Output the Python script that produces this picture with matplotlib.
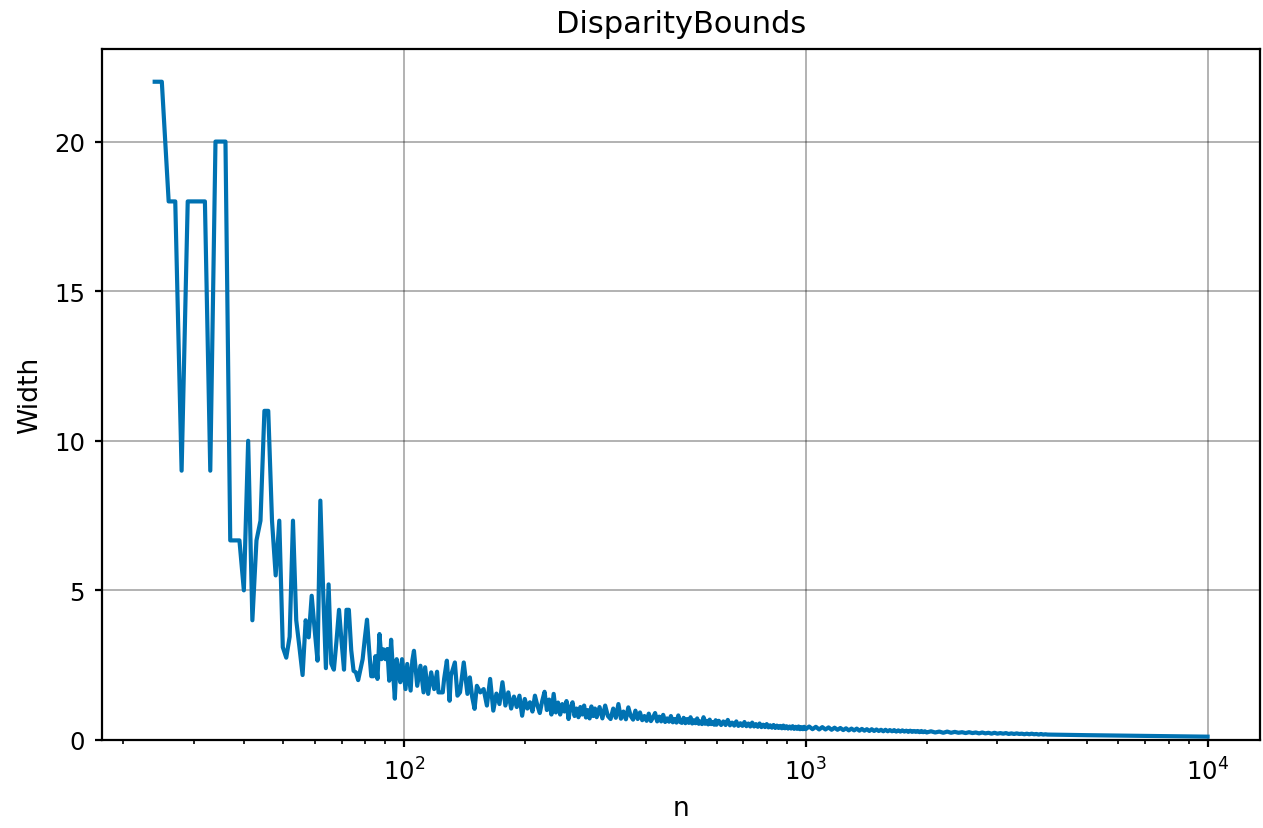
import numpy as np
import matplotlib
matplotlib.use("Agg")
import matplotlib.pyplot as plt

# ---- data ----
n_early = list(range(24, 101))
w_early = [22, 22, 18, 18, 9, 18, 18, 18, 18, 9,
           20, 20, 20, 6.67, 6.67, 6.67, 5, 10, 4, 6.67,
           7.33, 11, 11, 7.33, 5.5, 7.33, 3.1, 2.75, 3.45, 7.33,
           4.0, 3.1, 2.17, 4.0, 3.43, 4.82, 3.7, 2.65, 8.0, 5.0,
           2.4, 5.2, 2.55, 2.35, 3.3, 4.35, 3.3, 2.35, 4.35, 4.35,
           3.0, 2.31, 2.26, 2.0, 2.35, 2.7, 3.4, 4.02, 3.0, 2.13,
           2.13, 2.8, 2.04, 3.54, 2.7, 3.03, 2.7, 3.04, 1.98, 3.35,
           2.3, 1.38, 2.7, 2.3, 1.93, 2.7, 2.2]

n_mid = [101, 102, 104, 105, 106, 108, 110, 112, 113, 115,
         117, 119, 121, 122, 125, 126, 128, 130, 131, 134,
         136, 138, 141, 144, 146, 148, 150, 152]
w_mid = [1.7, 2.54, 1.65, 2.65, 2.98, 1.81, 2.48, 1.59, 2.43, 1.54,
         2.26, 1.7, 2.28, 1.59, 1.59, 2.04, 2.65, 1.31, 2.15, 2.59,
         1.48, 1.59, 2.59, 1.54, 2.09, 1.43, 1.04, 1.81]

n_a = list(range(155, 300, 3))
w_a = [1.59, 1.70, 1.15, 2.04, 0.98, 1.55, 1.20, 1.93, 1.15, 1.59,
       1.05, 1.45, 1.10, 1.48, 0.81, 1.37, 1.05, 1.26, 0.95, 1.48,
       1.15, 0.90, 1.30, 1.61, 1.00, 1.35, 0.85, 1.54, 0.92, 1.25,
       0.85, 1.20, 0.95, 1.30, 0.70, 1.10, 1.26, 0.80, 1.05, 0.76,
       1.10, 0.85, 1.15, 0.75, 1.00, 0.72, 1.12, 0.80, 1.05]

n_b = list(range(302, 600, 5))
w_b = [0.76, 1.10, 0.72, 1.15, 0.80, 0.70, 1.05, 0.74, 1.20, 0.71,
       0.95, 0.69, 1.09, 0.80, 0.68, 0.98, 0.70, 0.92, 0.66, 0.80,
       0.64, 0.88, 0.63, 0.75, 0.90, 0.62, 0.78, 0.62, 0.84, 0.60,
       0.72, 0.61, 0.80, 0.59, 0.70, 0.58, 0.82, 0.60, 0.57, 0.74,
       0.56, 0.70, 0.57, 0.76, 0.55, 0.66, 0.56, 0.72, 0.54, 0.62,
       0.53, 0.76, 0.54, 0.64, 0.52, 0.68, 0.53, 0.60, 0.51, 0.66]

n_c = list(range(600, 1000, 8))
w_c = [0.51, 0.64, 0.50, 0.62, 0.50, 0.67, 0.49, 0.58, 0.48, 0.62,
       0.47, 0.56, 0.47, 0.60, 0.46, 0.55, 0.45, 0.58, 0.45, 0.53,
       0.44, 0.55, 0.43, 0.51, 0.43, 0.53, 0.42, 0.49, 0.41, 0.50,
       0.40, 0.48, 0.40, 0.47, 0.39, 0.48, 0.39, 0.46, 0.38, 0.45,
       0.38, 0.46, 0.37, 0.44, 0.37, 0.45, 0.36, 0.43, 0.36, 0.44]

n_d = list(range(1000, 2000, 20))
w_d = [0.36, 0.45, 0.36, 0.44, 0.35, 0.43, 0.35, 0.42, 0.34, 0.41,
       0.34, 0.40, 0.33, 0.39, 0.32, 0.38, 0.32, 0.38, 0.31, 0.37,
       0.31, 0.36, 0.30, 0.36, 0.30, 0.35, 0.30, 0.34, 0.29, 0.34,
       0.29, 0.33, 0.29, 0.33, 0.28, 0.32, 0.28, 0.32, 0.28, 0.31,
       0.27, 0.31, 0.27, 0.30, 0.27, 0.30, 0.26, 0.30, 0.26, 0.29]

n_e = list(range(2000, 4000, 50))
w_e = [0.25, 0.29, 0.25, 0.28, 0.24, 0.28, 0.24, 0.27, 0.24, 0.26,
       0.23, 0.26, 0.23, 0.25, 0.22, 0.25, 0.22, 0.24, 0.21, 0.24,
       0.21, 0.23, 0.21, 0.23, 0.20, 0.22, 0.20, 0.22, 0.20, 0.21,
       0.19, 0.21, 0.19, 0.21, 0.19, 0.20, 0.18, 0.20, 0.18, 0.19]

n_f = list(range(4000, 10001, 200))
w_f = [0.18, 0.175, 0.17, 0.168, 0.163, 0.16, 0.157, 0.153, 0.15, 0.148,
       0.145, 0.143, 0.14, 0.138, 0.136, 0.134, 0.132, 0.13, 0.128, 0.126,
       0.124, 0.122, 0.12, 0.119, 0.118, 0.116, 0.115, 0.113, 0.112, 0.111,
       0.11]

n_all = n_early + n_mid + n_a + n_b + n_c + n_d + n_e + n_f
w_all = w_early + w_mid + w_a + w_b + w_c + w_d + w_e + w_f

title = "DisparityBounds"
xlabel = "n"
ylabel = "Width"

# ---- figure ----
fig = plt.figure(figsize=(6.315, 4.145), dpi=200)
ax = fig.add_axes([0.0808, 0.1062, 0.917, 0.8335])
ax.plot(n_all, w_all, color="#0072B2", linewidth=1.5)
ax.set_xscale("log")
ax.set_ylim(bottom=0)
ax.grid(True, which="major", color="black", alpha=0.3, linewidth=0.7)
ax.set_title(title, fontsize=11)
ax.set_xlabel(xlabel, fontsize=9.6)
ax.set_ylabel(ylabel, fontsize=9.6)
ax.tick_params(axis="both", which="major", labelsize=8.8, length=2.6)
ax.tick_params(axis="x", which="minor", length=1.6)
for s in ax.spines.values():
    s.set_linewidth(0.8)
fig.savefig("out.png", dpi=200)
